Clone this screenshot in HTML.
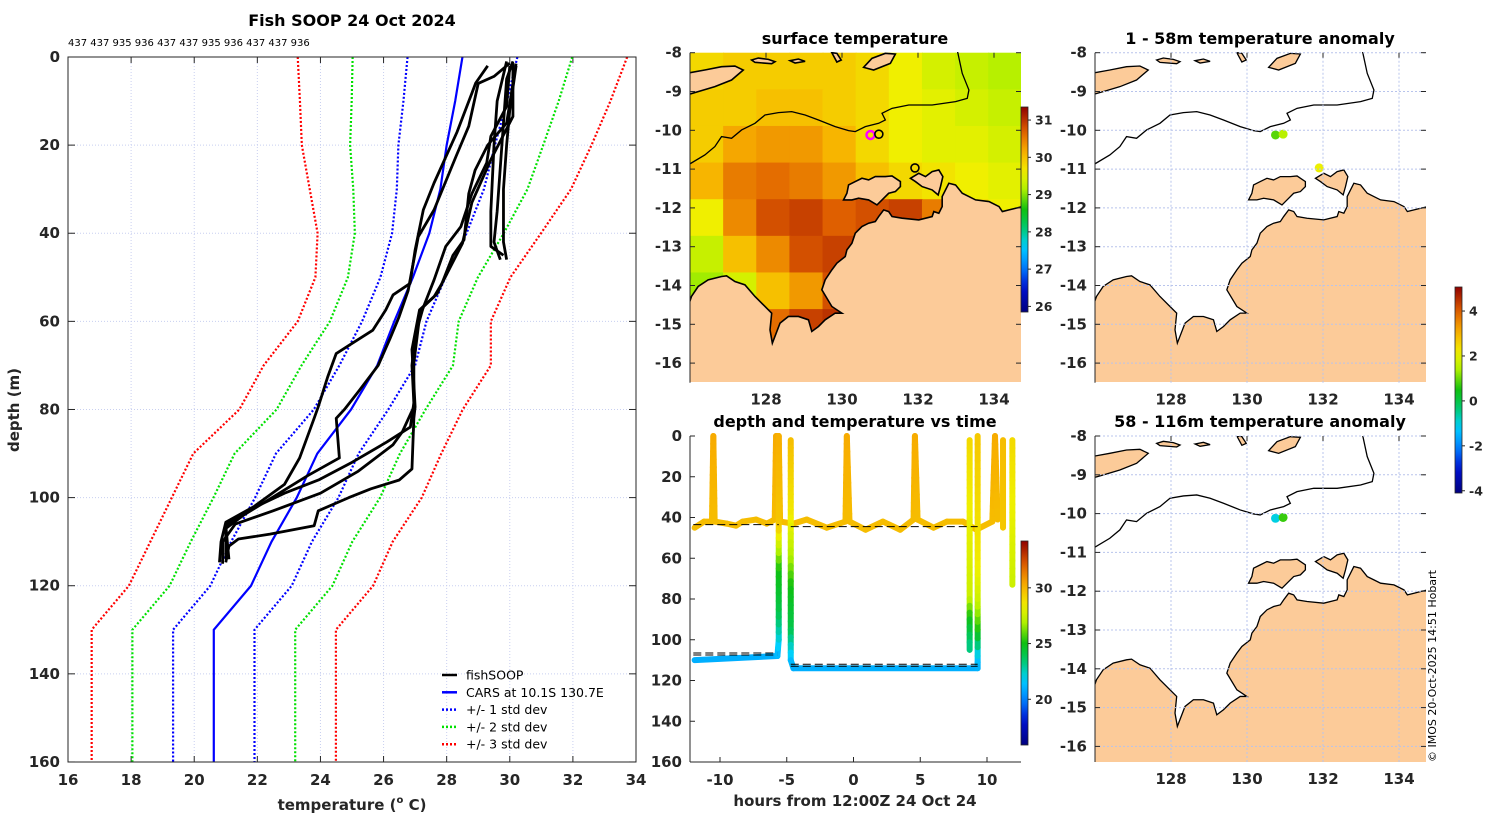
<!DOCTYPE html>
<html><head><meta charset="utf-8"><style>
html,body{margin:0;padding:0;background:#fff;}
svg{display:block;font-family:"DejaVu Sans","Liberation Sans",sans-serif;}
.tk{font-size:15px;font-weight:bold;fill:#262626;}
.ttl{font-size:16px;font-weight:bold;fill:#000;}
</style></head><body>
<svg id="fig" width="1500" height="820" viewBox="0 0 1500 820" xmlns="http://www.w3.org/2000/svg">
<defs>
<clipPath id="cm1"><rect x="690" y="52" width="331" height="330"/></clipPath>
<clipPath id="cm2"><rect x="1095" y="52" width="331" height="330"/></clipPath>
<clipPath id="cm3"><rect x="1095" y="436" width="331" height="326"/></clipPath>
</defs>
<text class="ttl" x="352" y="26" text-anchor="middle">Fish SOOP 24 Oct 2024</text>
<text x="68" y="46" font-size="10" font-family="DejaVu Sans">437 437 935 936 437 437 935 936 437 437 936</text>
<text class="tk" transform="translate(19,410) rotate(-90)" text-anchor="middle">depth (m)</text>
<text class="tk" x="352" y="810" text-anchor="middle">temperature (<tspan font-size="10" dy="-7">o</tspan><tspan dy="7"> C)</tspan></text>
<text class="ttl" x="855" y="44" text-anchor="middle">surface temperature</text>
<text class="ttl" x="855" y="427" text-anchor="middle">depth and temperature vs time</text>
<text class="tk" x="855" y="806" text-anchor="middle">hours from 12:00Z 24 Oct 24</text>
<text class="ttl" x="1260" y="44" text-anchor="middle">1 - 58m temperature anomaly</text>
<text class="ttl" x="1260" y="427" text-anchor="middle">58 - 116m temperature anomaly</text>
<text font-size="11" fill="#000" transform="translate(1436,762) rotate(-90)">© IMOS 20-Oct-2025 14:51 Hobart</text>
</svg>
<script>
// ---------- DATA ----------
const cDepths=[0,10,20,30,40,50,60,70,80,90,100,110,120,130,160];
const carsMean=[28.5,28.27,28.0,27.8,27.45,26.93,26.34,25.8,24.97,23.9,23.25,22.45,21.8,20.62,20.62];
const carsSd=[1.74,1.64,1.53,1.38,1.18,1.03,1.02,1.2,1.18,1.31,1.32,1.28,1.29,1.29,1.29];
const prof1=[[30.1,1],[29.9,5],[29.8,15],[29.7,25],[29.6,35],[29.5,42],[29.7,46]];
const prof2=[[30.2,2],[30.0,12],[29.9,20],[29.8,30],[29.8,42],[29.9,46]];
const prof3=[[29.9,1],[29.6,10],[29.5,20],[29.4,35],[29.4,43],[29.8,45]];
const prof4=[[29.3,2],[28.92,5.9],[28.8,8.2],[28.33,17],[27.6,28.6],[27.26,34.7],[27.0,43.8],[26.84,51.4],[26.3,54],[26.07,57.4],[25.66,62],[25.0,65],[24.5,67.3],[24.23,72.6],[23.93,79.4],[23.8,82],[23.34,91],[22.86,97],[21.9,102],[21.0,105.6],[20.85,110],[20.8,114.7]];
const prof5=[[30.0,1.4],[29.5,4.4],[29.0,6],[28.7,15.7],[28.3,22.5],[27.6,34.7],[27.1,40.8],[26.9,48.3],[26.78,53],[26.49,59],[26.2,64],[25.83,70],[25.24,75.6],[24.76,80],[24.5,82],[24.6,91],[23.6,95],[22.4,100.3],[21.56,104],[21.0,107],[21.0,114]];
const prof6=[[30.1,1.4],[30.1,13.5],[29.4,23.3],[28.8,33],[28.5,42.3],[27.85,51.4],[27.6,54.4],[27.14,57.4],[26.9,66.4],[27.0,79.4],[26.96,82],[26.9,93.5],[26.5,96],[25.6,98],[24.9,100],[23.93,103],[23.8,106.4],[22.4,108.3],[21.4,109.4],[21.1,111],[21.0,114.7]];
const prof7=[[30.2,1.5],[29.9,15],[29.3,20],[28.9,25.7],[28.7,31],[28.55,41.5],[28.2,45],[27.85,51.4],[27.7,53.7],[27.26,56.7],[27.0,63.4],[26.9,70],[26.96,78.5],[26.85,84],[26.1,87.4],[25.0,92],[23.94,96],[22.86,99],[21.68,103],[21.0,106.3],[21.1,114]];
const prof8=[[30.0,2],[29.9,11.2],[29.4,18],[29.27,24],[28.8,31],[28.45,38.5],[27.97,43],[27.6,50.6],[27.14,59],[26.96,69.5],[26.96,79.4],[26.6,85],[26.3,88],[25.2,94],[24.0,99],[22.5,103],[21.3,106],[20.9,110],[20.9,115]];
const profiles=[prof1,prof2,prof3,prof4,prof5,prof6,prof7,prof8];
// SST grid: rows lat -8..-16.5 (9 rows), cols lon 126..134.72 (10 cols)
const sstGrid=[
[29.8,29.9,29.9,29.9,29.9,29.8,29.6,29.4,29.3,29.2],
[29.9,29.9,30.0,30.0,29.9,29.8,29.6,29.5,29.4,29.3],
[29.9,30.2,30.3,30.3,30.1,29.8,29.6,29.5,29.5,29.4],
[30.1,30.5,30.6,30.5,30.3,30.0,29.8,29.7,29.6,29.5],
[29.6,30.4,30.8,30.9,30.7,30.8,30.9,30.5,29.8,29.6],
[29.3,30.0,30.4,30.8,30.9,31.0,30.9,30.5,30.0,29.8],
[29.1,29.4,30.0,30.3,30.8,31.0,30.8,30.5,30.0,29.8],
[30.0,30.3,30.6,30.9,31.0,31.0,30.8,30.5,30.0,29.8],
[30.0,30.3,30.6,30.9,31.0,31.0,30.8,30.5,30.0,29.8]];
const anomLon1=[130.75,130.95,131.9];
const anomLat1=[-10.12,-10.1,-10.97];
const anomVal1=[0.9,1.5,2.1];
const anomLon2=[130.75,130.95];
const anomLat2=[-10.12,-10.1];
const anomVal2=[-1.0,0.7];
// time series: [hour, depth, temp]
const shallowTrack=[[-11.9,45,29.8],[-11.2,42,29.8],[-10.6,42,29.8],[-10.5,0,30.3],[-10.4,42,29.8],[-9.5,43,29.8],[-8.8,44,29.8],[-8.3,42,29.8],[-7.3,41,29.8],[-6.5,43,29.8],[-5.9,41,29.8],[-5.8,0,30.3],[-5.6,0,30.3],[-5.5,42,29.8],[-4.5,43,29.8],[-3.5,41,29.8],[-2,45,29.8],[-0.6,42,29.8],[-0.5,0,30.3],[-0.3,42,29.8],[0.9,46,29.8],[2.2,42,29.8],[3.5,46,29.8],[4.5,41,29.8],[4.6,0,30.3],[4.8,41,29.8],[6,45,29.8],[7,42,29.8],[8.2,42,29.8],[9.2,46,29.8],[10.4,42,29.8],[10.6,0,30.3],[10.8,41,29.8]];
const deepTrack1=[[-11.9,110,21],[-5.7,108,21],[-5.6,100,22],[-5.6,85,24],[-5.6,65,25],[-5.6,50,28],[-5.6,43,29.5],[-5.6,0,30.2]];
const deepTrack2=[[-4.7,2,29.8],[-4.7,40,28.5],[-4.7,60,27],[-4.7,75,25],[-4.7,95,24],[-4.7,110,21.5],[-4.5,114,21],[9.3,114,21],[9.3,108,21.5],[9.3,95,25],[9.3,80,27.5],[9.3,60,28.5],[9.3,0,29.5]];
const deepTrack3=[[8.7,2,29],[8.7,80,27.5],[8.7,90,25],[8.7,105,23]];
const deepTrack4=[[11.2,2,29.8],[11.2,45,29.5]];
const deepTrack5=[[11.9,2,29],[11.9,73,27.5]];
const tracks=[shallowTrack,deepTrack1,deepTrack2,deepTrack3,deepTrack4,deepTrack5];
const refDepthA=[43.5,44.5,106.5,107.5,112,113];
const refStartA=[-12,-4.7,-12,-12,-4.7,-4.7];
const refEndA=[-5.6,9.3,-5.7,-5.7,9.3,9.3];
const tempTicks=[16,18,20,22,24,26,28,30,32,34];
const depthTicks=[0,20,40,60,80,100,120,140,160];
const hourTicks=[-10,-5,0,5,10];
const latTicks=[-8,-9,-10,-11,-12,-13,-14,-15,-16];
const lonTicks=[128,130,132,134];

// ---------- helpers ----------
const NS="http://www.w3.org/2000/svg";
const svg=document.getElementById('fig');
function el(tag,attrs,parent){const e=document.createElementNS(NS,tag);for(const k in attrs)e.setAttribute(k,attrs[k]);(parent||svg).appendChild(e);return e;}
const stops=[[0,[0,0,127]],[0.12,[0,16,208]],[0.22,[0,128,255]],[0.32,[0,208,255]],[0.42,[0,200,96]],[0.5,[16,192,16]],[0.6,[176,240,0]],[0.68,[240,240,0]],[0.78,[248,176,0]],[0.88,[224,96,0]],[1,[144,0,0]]];
function cmap(t){t=Math.max(0,Math.min(1,t));for(let i=1;i<stops.length;i++){if(t<=stops[i][0]){const a=stops[i-1],b=stops[i];const f=(t-a[0])/(b[0]-a[0]);const c=a[1].map((v,j)=>Math.round(v+(b[1][j]-v)*f));return `rgb(${c[0]},${c[1]},${c[2]})`;}}return 'rgb(144,0,0)';}

// ---------- left profile panel ----------
const PX=t=>68+(t-16)*31.556, PY=d=>57+d*4.406;
const gL=el('g',{});

tempTicks.forEach(t=>{
 const g=el('line',{x1:PX(t),x2:PX(t),y1:57,y2:762,stroke:'#c8cff0','stroke-dasharray':'1,2','stroke-width':1},gL);
 
 const tl=el('text',{x:PX(t),y:785,'text-anchor':'middle',class:'tk'},gL);tl.textContent=t;
 
 el('line',{x1:PX(t),x2:PX(t),y1:57,y2:63,stroke:'#262626'},gL);
 el('line',{x1:PX(t),x2:PX(t),y1:756,y2:762,stroke:'#262626'},gL);
});
depthTicks.forEach(d=>{
 const g=el('line',{x1:68,x2:636,y1:PY(d),y2:PY(d),stroke:'#c8cff0','stroke-dasharray':'1,2'},gL);
 
 const tl=el('text',{x:60,y:PY(d)+5,'text-anchor':'end',class:'tk'},gL);tl.textContent=d;
 
 el('line',{x1:68,x2:75,y1:PY(d),y2:PY(d),stroke:'#262626'},gL);
 el('line',{x1:629,x2:636,y1:PY(d),y2:PY(d),stroke:'#262626'},gL);
});
const sdCols={1:'#0000ff',2:'#00e000',3:'#ff0000'};
[3,2,1].forEach(k=>{[-1,1].forEach(s=>{
 const pts=cDepths.map((d,i)=>PX(carsMean[i]+s*k*carsSd[i])+','+PY(d)).join(' ');
 const p=el('polyline',{points:pts,fill:'none',stroke:sdCols[k],'stroke-width':2.2,'stroke-dasharray':'2,2'},gL);
 
});});
const mean=el('polyline',{points:cDepths.map((d,i)=>PX(carsMean[i])+','+PY(d)).join(' '),fill:'none',stroke:'#0000ff','stroke-width':2.2},gL);

profiles.forEach(pr=>{
 const p=el('polyline',{points:pr.map(q=>PX(q[0])+','+PY(q[1])).join(' '),fill:'none',stroke:'#000','stroke-width':2.8,'stroke-linejoin':'round'},gL);
 
});
el('rect',{x:68,y:57,width:568,height:705,fill:'none',stroke:'#262626','stroke-width':1},gL);
const leg=[['fishSOOP','#000',''],['CARS at 10.1S 130.7E','#0000ff',''],['+/- 1 std dev','#0000ff','2,2'],['+/- 2 std dev','#00e000','2,2'],['+/- 3 std dev','#ff0000','2,2']];
leg.forEach((L,i)=>{
 const y=675+i*17.3;
 const ln=el('line',{x1:442,x2:457,y1:y,y2:y,stroke:L[1],'stroke-width':2.5,'stroke-dasharray':L[2]||'none'},gL);
 
 const tx=el('text',{x:466,y:y+4.5,'font-size':12.5,fill:'#000'},gL);tx.textContent=L[0];
 
});

const zl=zx=>128+(zx-333)/113.67, zt=zy=>-8-(zy-68)/116.5;
const mainland=[[100,830],[110,800],[130,770],[160,750],[200,740],[215,738],[240,755],[270,765],[300,800],[330,830],[350,850],[345,900],[352,940],[375,880],[400,860],[430,860],[460,870],[470,905],[490,890],[510,870],[540,850],[560,850],[530,830],[500,780],[510,750],[530,720],[545,700],[570,680],[575,660],[590,640],[600,610],[620,590],[640,580],[660,575],[670,560],[685,540],[700,545],[710,560],[740,565],[790,570],[830,560],[835,545],[850,550],[860,530],[860,500],[880,460],[900,465],[920,490],[940,500],[960,510],[1000,515],[1030,530],[1040,545],[1060,540],[1080,535],[1110,528],[1110,1100],[100,1100]];
const melville=[[565,510],[575,490],[580,465],[600,455],[620,445],[640,450],[660,440],[690,440],[710,438],[735,455],[735,470],[720,485],[700,490],[680,510],[665,525],[640,510],[610,505],[590,510]];
const cobourg=[[765,445],[790,430],[810,440],[830,425],[850,420],[862,440],[855,470],[848,495],[830,480],[800,470],[780,455]];
const timor=[[95,130],[150,120],[200,110],[240,108],[265,120],[230,150],[180,170],[130,185],[95,195]];
const isl1=[[290,90],[310,84],[340,88],[360,95],[350,101],[300,97]];
const isl2=[[405,92],[430,87],[450,94],[420,99]];
const isl3=[[530,68],[545,70],[558,90],[545,96]];
const isl4=[[625,112],[650,85],[690,70],[720,72],[705,100],[655,120]];
const landPolys=[mainland,melville,cobourg,timor,isl1,isl2,isl3,isl4];
const bathy=[[100,405],[150,375],[180,350],[200,320],[230,325],[260,300],[300,280],[330,255],[370,248],[410,245],[450,255],[490,270],[540,290],[580,302],[600,305],[630,290],[670,280],[690,270],[680,250],[710,235],[760,225],[830,225],[900,215],[935,205],[940,180],[920,130],[905,60]];

function drawMap(x0,y0,h,clip,name){
 const MX=lon=>x0+(lon-126)*38.0, MY=lat=>y0-(lat+8)*38.8;
 const g=el('g',{'clip-path':'url(#'+clip+')'});
 
 return {g,MX,MY};
}
function drawLand(m,stroke){
 landPolys.forEach(P=>{
  const p=el('polygon',{points:P.map(q=>m.MX(zl(q[0]))+','+m.MY(zt(q[1]))).join(' '),fill:'#fccb99',stroke:'#000','stroke-width':stroke},m.g);
  
 });
 const b=el('polyline',{points:bathy.map(q=>m.MX(zl(q[0]))+','+m.MY(zt(q[1]))).join(' '),fill:'none',stroke:'#000','stroke-width':1.3},m.g);
 
}
function mapAxes(x0,y0,h,gridOn,prefix){
 const MX=lon=>x0+(lon-126)*38.0, MY=lat=>y0-(lat+8)*38.8;
 latTicks.forEach(la=>{
  if(gridOn){const gl=el('line',{x1:x0,x2:x0+331,y1:MY(la),y2:MY(la),stroke:'#b8c4ec','stroke-dasharray':'2,2'});}
  el('line',{x1:x0,x2:x0+5,y1:MY(la),y2:MY(la),stroke:'#262626'});
  el('line',{x1:x0+326,x2:x0+331,y1:MY(la),y2:MY(la),stroke:'#262626'});
  const t=el('text',{x:x0-8,y:MY(la)+5,'text-anchor':'end',class:'tk'});t.textContent=la;
  
 });
 lonTicks.forEach(lo=>{
  if(gridOn){const gl=el('line',{x1:MX(lo),x2:MX(lo),y1:y0,y2:y0+h,stroke:'#b8c4ec','stroke-dasharray':'2,2'});}
  el('line',{x1:MX(lo),x2:MX(lo),y1:y0,y2:y0+5,stroke:'#262626'});
  const t=el('text',{x:MX(lo),y:y0+h+22,'text-anchor':'middle',class:'tk'});t.textContent=lo;
  
 });
 el('line',{x1:x0,x2:x0,y1:y0,y2:y0+h,stroke:'#262626'});
}

// SST map
const m1=drawMap(690,52.7,330,'cm1','sst-map');
sstGrid.forEach((row,r)=>row.forEach((v,c)=>{
 const lon=126+c*0.872, lat=-8-r*0.944;
 const cell=el('rect',{x:m1.MX(lon),y:m1.MY(lat),width:0.872*38+1,height:0.944*38.8+1,fill:cmap((v-25.85)/5.5)},m1.g);
 
}));
drawLand(m1,1.6);
const mk=el('circle',{cx:m1.MX(130.75),cy:m1.MY(-10.12),r:4,fill:'none',stroke:'#ff00ff','stroke-width':2.5},m1.g);

[[130.97,-10.1],[131.92,-10.97]].forEach(p=>{const c=el('circle',{cx:m1.MX(p[0]),cy:m1.MY(p[1]),r:4,fill:'none',stroke:'#000','stroke-width':1.6},m1.g);});
mapAxes(690,52.7,330,false,'sst');

// anomaly maps
const m2=drawMap(1095,52.7,330,'cm2','anomaly-map-1');
mapAxes(1095,52.7,330,true,'anom1');
drawLand(m2,1.3);
anomLon1.forEach((lo,i)=>{const c=el('circle',{cx:m2.MX(lo),cy:m2.MY(anomLat1[i]),r:4.5,fill:cmap((anomVal1[i]+4.1)/9.17)},m2.g);});
const m3=drawMap(1095,436,326,'cm3','anomaly-map-2');
mapAxes(1095,436,326,true,'anom2');
drawLand(m3,1.3);
anomLon2.forEach((lo,i)=>{const c=el('circle',{cx:m3.MX(lo),cy:m3.MY(anomLat2[i]),r:4.5,fill:cmap((anomVal2[i]+4.1)/9.17)},m3.g);});

// ---------- time panel ----------
const TX=h=>853.5+h*13.35, TY=d=>436+d*2.0375;
const gT=el('g',{});

tracks.forEach(tr=>{
 for(let i=1;i<tr.length;i++){
  const a=tr[i-1],b=tr[i];
  const n=Math.max(1,Math.round(Math.abs(b[1]-a[1])/4));
  for(let k=0;k<n;k++){
   const f0=k/n,f1=(k+1)/n;
   const s=el('line',{x1:TX(a[0]+(b[0]-a[0])*f0),y1:TY(a[1]+(b[1]-a[1])*f0),x2:TX(a[0]+(b[0]-a[0])*f1),y2:TY(a[1]+(b[1]-a[1])*f1),stroke:cmap((a[2]+(b[2]-a[2])*(f0+f1)/2-15.9)/18.3),'stroke-width':6,'stroke-linecap':'round'},gT);
   
  }
 }
});
refDepthA.forEach((d,i)=>{const l=el('line',{x1:TX(refStartA[i]),x2:TX(refEndA[i]),y1:TY(d),y2:TY(d),stroke:'#000','stroke-width':1,'stroke-dasharray':'8,4'},gT);});
depthTicks.forEach(d=>{el('line',{x1:690,x2:695,y1:TY(d),y2:TY(d),stroke:'#262626'},gT);const t=el('text',{x:682,y:TY(d)+5,'text-anchor':'end',class:'tk'},gT);t.textContent=d;});
hourTicks.forEach(h=>{el('line',{x1:TX(h),x2:TX(h),y1:757,y2:762,stroke:'#262626'},gT);const t=el('text',{x:TX(h),y:785,'text-anchor':'middle',class:'tk'},gT);t.textContent=h;});
el('line',{x1:690,x2:690,y1:436,y2:762,stroke:'#262626'},gT);
el('line',{x1:690,x2:1021,y1:762,y2:762,stroke:'#262626'},gT);

// ---------- colorbars ----------
function cbar(x,y0,y1,vTop,vBot,vmin,vmax,ticks,name){
 const id='g'+name;
 const lg=el('linearGradient',{id:id,x1:0,y1:0,x2:0,y2:1},svg.querySelector('defs'));
 for(let i=0;i<=20;i++){const v=vTop+(vBot-vTop)*i/20;el('stop',{offset:(i/20),'stop-color':cmap((v-vmin)/(vmax-vmin))},lg);}
 const r=el('rect',{x:x,y:y0,width:7,height:y1-y0,fill:'url(#'+id+')',stroke:'#262626','stroke-width':0.8});
 
 ticks.forEach(t=>{const yy=y0+(vTop-t)/(vTop-vBot)*(y1-y0);el('line',{x1:x+7,x2:x+10,y1:yy,y2:yy,stroke:'#262626'});const tx=el('text',{x:x+14,y:yy+4.5,'font-size':12.5,'font-weight':'bold',fill:'#262626'});tx.textContent=t;});
}
cbar(1021,107,312,31.35,25.85,25.85,31.35,[26,27,28,29,30,31],'sst-colorbar');
cbar(1021,541,745,34.2,15.9,15.9,34.2,[20,25,30],'time-colorbar');
cbar(1455,287,493,5.07,-4.1,-4.1,5.07,[-4,-2,0,2,4],'anomaly-colorbar');
</script>
</body></html>
